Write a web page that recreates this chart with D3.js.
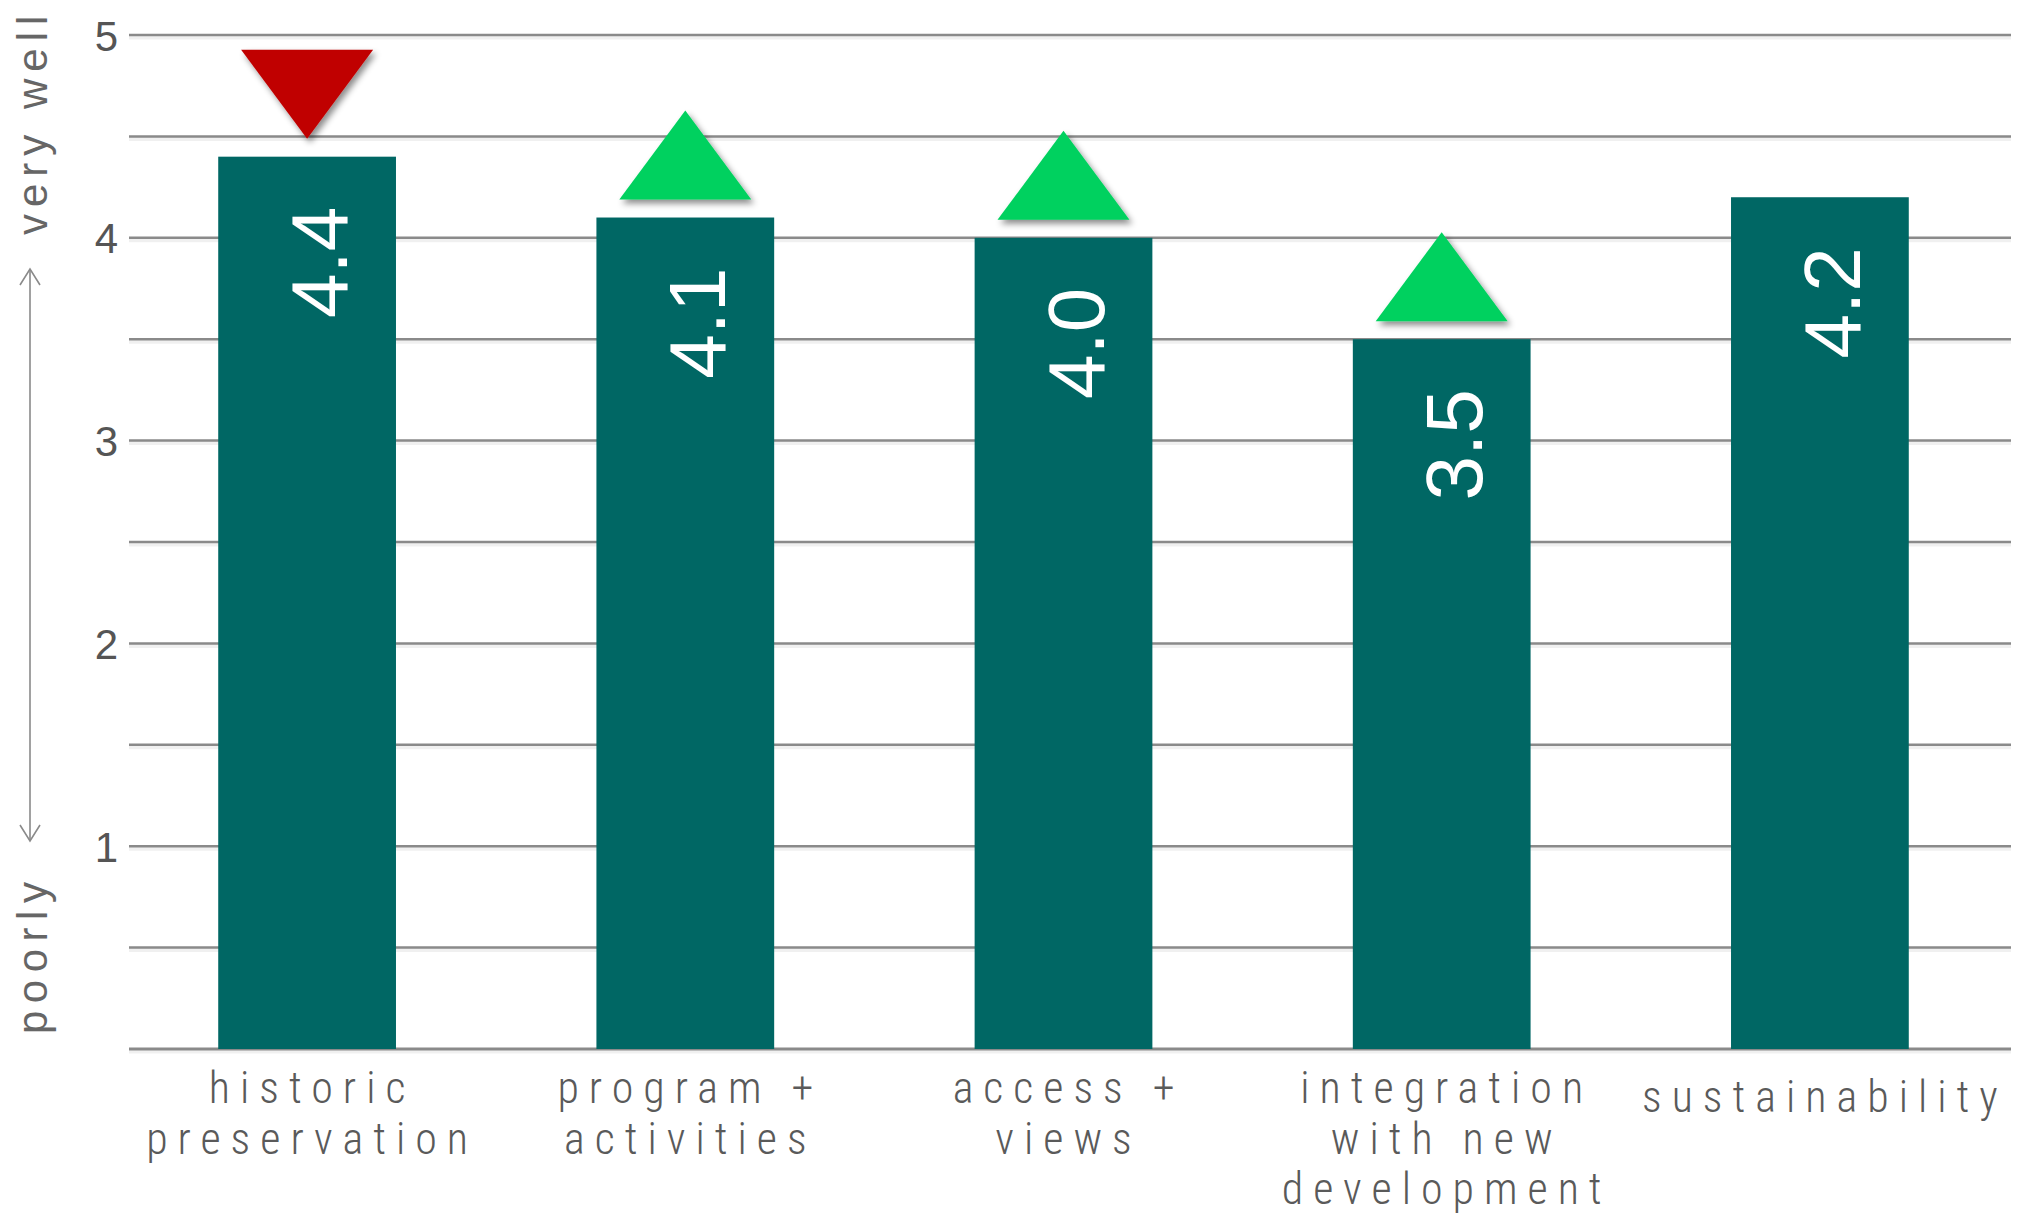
<!DOCTYPE html>
<html>
<head>
<meta charset="utf-8">
<script src="https://cdn.jsdelivr.net/npm/d3@7"></script>
<style>
  html, body { margin: 0; padding: 0; background: #fff; }
  svg { display: block; }
</style>
</head>
<body>
<svg id="chart" width="2028" height="1225"></svg>
<script>
// Ratings by category (scale 1 = poorly … 5 = very well)
const categories = ["historic preservation", "program + activities", "access + views",
                    "integration with new development", "sustainability"];
const labelLines = [["historic", "preservation"], ["program +", "activities"], ["access +", "views"],
                    ["integration", "with new", "development"], ["sustainability"]];
const scores = [4.4, 4.1, 4.0, 3.5, 4.2];
// change since the previous survey: "up", "down" or none
const trends = ["down", "up", "up", "up", null];
const yTickValues = [1, 2, 3, 4, 5];
const gridValues = [0, 0.5, 1, 1.5, 2, 2.5, 3, 3.5, 4, 4.5, 5];
const axisEnds = ["poorly", "very well"];

const svg = d3.select("#chart");

const plot = { left: 129, right: 2011, top: 35, bottom: 1049 };

const x = d3.scaleBand()
  .domain(categories)
  .range([118, 2009])
  .paddingInner(0.53)
  .paddingOuter(0.265);

const y = d3.scaleLinear()
  .domain([0, 5])
  .range([plot.bottom, plot.top]);

const defs = svg.append("defs");
const shadow = defs.append("filter").attr("id", "triShadow")
  .attr("x", "-20%").attr("y", "-20%").attr("width", "150%").attr("height", "150%");
shadow.append("feDropShadow")
  .attr("dx", 3).attr("dy", 4).attr("stdDeviation", 3)
  .attr("flood-color", "#000").attr("flood-opacity", 0.45);

// horizontal gridlines, each with a soft shadow line just below it
const grid = svg.append("g");
grid.selectAll("line.shade")
  .data(gridValues)
  .join("line")
  .attr("class", "shade")
  .attr("x1", plot.left)
  .attr("x2", plot.right)
  .attr("y1", d => y(d) + 2.5)
  .attr("y2", d => y(d) + 2.5)
  .attr("stroke", "#000")
  .attr("stroke-opacity", 0.06)
  .attr("stroke-width", 4);
grid.selectAll("line.rule")
  .data(gridValues)
  .join("line")
  .attr("class", "rule")
  .attr("x1", plot.left)
  .attr("x2", plot.right)
  .attr("y1", d => y(d))
  .attr("y2", d => y(d))
  .attr("stroke", "#8a8a8a")
  .attr("stroke-width", d => d === 0 ? 3 : 2.5);

// y axis tick labels
const yAxis = d3.axisLeft(y).tickValues(yTickValues).tickSize(0).tickPadding(0)
  .tickFormat(d3.format("d"));
const yAxisG = svg.append("g")
  .attr("transform", `translate(118,0)`)
  .call(yAxis);
yAxisG.select(".domain").remove();
yAxisG.selectAll("text")
  .attr("font-family", "'Liberation Sans', Arial, sans-serif")
  .attr("font-size", 42)
  .attr("fill", "#555")
  .attr("dy", "0.36em");

// axis title with a double-headed arrow between the two ends
const titleX = 47;
const titleFont = "'Liberation Sans', Arial, sans-serif";
svg.append("text")
  .attr("transform", `translate(${titleX},1034) rotate(-90)`)
  .attr("font-family", titleFont)
  .attr("font-size", 42)
  .attr("letter-spacing", 7.5)
  .attr("fill", "#666")
  .text(axisEnds[0]);
svg.append("text")
  .attr("transform", `translate(${titleX},235) rotate(-90)`)
  .attr("font-family", titleFont)
  .attr("font-size", 42)
  .attr("letter-spacing", 7)
  .attr("fill", "#666")
  .text(axisEnds[1]);

const arrow = svg.append("g")
  .attr("stroke", "#8a8a8a")
  .attr("stroke-width", 1.6)
  .attr("fill", "none");
const arrowX = 30, arrowTop = 269, arrowBottom = 841;
arrow.append("line").attr("x1", arrowX).attr("x2", arrowX).attr("y1", arrowTop).attr("y2", arrowBottom);
arrow.append("path").attr("d", `M${arrowX - 10},${arrowTop + 16} L${arrowX},${arrowTop} L${arrowX + 10},${arrowTop + 16}`);
arrow.append("path").attr("d", `M${arrowX - 10},${arrowBottom - 16} L${arrowX},${arrowBottom} L${arrowX + 10},${arrowBottom - 16}`);

// bars
const data = categories.map((c, i) => ({ cat: c, score: scores[i], trend: trends[i], lines: labelLines[i] }));

svg.append("g")
  .selectAll("rect")
  .data(data)
  .join("rect")
  .attr("x", d => x(d.cat))
  .attr("width", x.bandwidth())
  .attr("y", d => y(d.score))
  .attr("height", d => y(0) - y(d.score))
  .attr("fill", "#006764");

// value labels, rotated inside the top of each bar
svg.append("g")
  .selectAll("text")
  .data(data)
  .join("text")
  .attr("transform", d => `translate(${x(d.cat) + x.bandwidth() / 2 + 40},${y(d.score) + 50}) rotate(-90)`)
  .attr("text-anchor", "end")
  .attr("font-family", "'Liberation Sans', Arial, sans-serif")
  .attr("font-size", 80)
  .attr("fill", "#fff")
  .text(d => d3.format(".1f")(d.score));

// trend markers above the bars
const triW = 132, triH = 89, gap = 18;
function trianglePath(d) {
  const cx = x(d.cat) + x.bandwidth() / 2;
  const p = d3.path();
  if (d.trend === "up") {
    const base = y(d.score) - gap;
    p.moveTo(cx - triW / 2, base);
    p.lineTo(cx, base - triH);
    p.lineTo(cx + triW / 2, base);
  } else {
    const apex = y(d.score) - gap;
    p.moveTo(cx - triW / 2, apex - triH);
    p.lineTo(cx + triW / 2, apex - triH);
    p.lineTo(cx, apex);
  }
  p.closePath();
  return p.toString();
}
svg.append("g")
  .selectAll("path")
  .data(data.filter(d => d.trend))
  .join("path")
  .attr("d", trianglePath)
  .attr("fill", d => d.trend === "up" ? "#00d15f" : "#c00000")
  .attr("filter", "url(#triShadow)");

// category labels under the axis
const catFont = "'Liberation Sans Narrow', 'Roboto Condensed', 'DejaVu Sans Condensed', 'Liberation Sans', sans-serif";
const ls = 10;
const labels = svg.append("g")
  .selectAll("text")
  .data(data)
  .join("text")
  .attr("font-family", catFont)
  .attr("font-stretch", "condensed")
  .attr("font-weight", 300)
  .attr("font-size", 44)
  .attr("letter-spacing", ls)
  .attr("fill", "#5a5a5a")
  .attr("text-anchor", "middle")
  .attr("transform", d => `translate(${x(d.cat) + x.bandwidth() / 2 + ls / 2},${d.lines.length === 1 ? 1112 : 1103})`);
labels.selectAll("tspan")
  .data(d => d.lines)
  .join("tspan")
  .attr("x", 0)
  .attr("y", (l, i) => i * 50.5)
  .text(l => l);
</script>
</body>
</html>
